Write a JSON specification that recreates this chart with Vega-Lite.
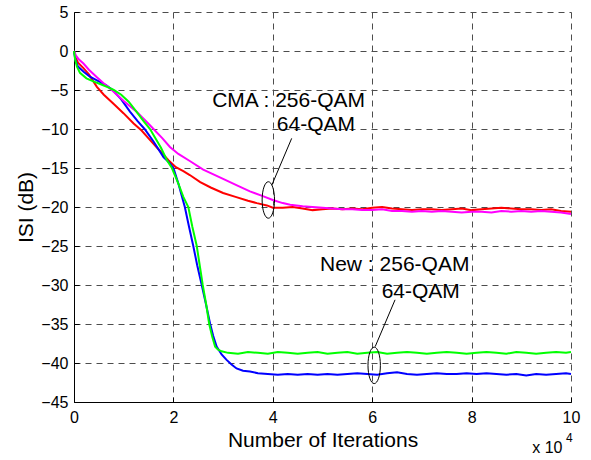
{
  "$schema": "https://vega.github.io/schema/vega-lite/v6.json",
  "width": 497,
  "height": 390,
  "autosize": {"type": "none"},
  "padding": {"left": 74, "top": 12, "right": 20, "bottom": 58},
  "background": "white",
  "config": {
    "font": "Liberation Sans",
    "view": {"stroke": null},
    "axis": {
      "domainColor": "black",
      "domainWidth": 1,
      "tickColor": "black",
      "tickSize": -5,
      "labelColor": "black",
      "labelFont": "Liberation Sans",
      "labelFontSize": 16,
      "titleFont": "Liberation Sans",
      "titleFontSize": 21,
      "titleFontWeight": "normal",
      "titleColor": "black",
      "grid": true,
      "gridColor": "#4d4d4d",
      "gridDash": [6, 5],
      "gridWidth": 1,
      "gridOpacity": 1,
      "labelOverlap": false
    }
  },
  "datasets": {
    "curves": [
      {"x": 0, "isi": 0, "series": "CMA 256-QAM"},
      {"x": 0.03, "isi": -0.8, "series": "CMA 256-QAM"},
      {"x": 0.08, "isi": -1.5, "series": "CMA 256-QAM"},
      {"x": 0.19, "isi": -2.2, "series": "CMA 256-QAM"},
      {"x": 0.3, "isi": -3.0, "series": "CMA 256-QAM"},
      {"x": 0.46, "isi": -4.6, "series": "CMA 256-QAM"},
      {"x": 0.6, "isi": -5.6, "series": "CMA 256-QAM"},
      {"x": 0.8, "isi": -6.8, "series": "CMA 256-QAM"},
      {"x": 1.0, "isi": -8.0, "series": "CMA 256-QAM"},
      {"x": 1.2, "isi": -9.3, "series": "CMA 256-QAM"},
      {"x": 1.36, "isi": -10.2, "series": "CMA 256-QAM"},
      {"x": 1.5, "isi": -11.2, "series": "CMA 256-QAM"},
      {"x": 1.7, "isi": -12.6, "series": "CMA 256-QAM"},
      {"x": 1.9, "isi": -14.0, "series": "CMA 256-QAM"},
      {"x": 2.05, "isi": -14.9, "series": "CMA 256-QAM"},
      {"x": 2.2, "isi": -15.4, "series": "CMA 256-QAM"},
      {"x": 2.33, "isi": -15.9, "series": "CMA 256-QAM"},
      {"x": 2.54, "isi": -16.8, "series": "CMA 256-QAM"},
      {"x": 2.75, "isi": -17.5, "series": "CMA 256-QAM"},
      {"x": 3.0, "isi": -18.2, "series": "CMA 256-QAM"},
      {"x": 3.25, "isi": -18.7, "series": "CMA 256-QAM"},
      {"x": 3.5, "isi": -19.2, "series": "CMA 256-QAM"},
      {"x": 3.68, "isi": -19.5, "series": "CMA 256-QAM"},
      {"x": 3.88, "isi": -19.8, "series": "CMA 256-QAM"},
      {"x": 4.0, "isi": -20.1, "series": "CMA 256-QAM"},
      {"x": 4.2, "isi": -20.1, "series": "CMA 256-QAM"},
      {"x": 4.4, "isi": -20.0, "series": "CMA 256-QAM"},
      {"x": 4.6, "isi": -20.2, "series": "CMA 256-QAM"},
      {"x": 4.8, "isi": -20.4, "series": "CMA 256-QAM"},
      {"x": 5.0, "isi": -20.3, "series": "CMA 256-QAM"},
      {"x": 5.2, "isi": -20.2, "series": "CMA 256-QAM"},
      {"x": 5.4, "isi": -20.3, "series": "CMA 256-QAM"},
      {"x": 5.6, "isi": -20.2, "series": "CMA 256-QAM"},
      {"x": 5.8, "isi": -20.3, "series": "CMA 256-QAM"},
      {"x": 6.0, "isi": -20.1, "series": "CMA 256-QAM"},
      {"x": 6.2, "isi": -20.0, "series": "CMA 256-QAM"},
      {"x": 6.4, "isi": -20.2, "series": "CMA 256-QAM"},
      {"x": 6.6, "isi": -20.3, "series": "CMA 256-QAM"},
      {"x": 6.8, "isi": -20.4, "series": "CMA 256-QAM"},
      {"x": 7.0, "isi": -20.3, "series": "CMA 256-QAM"},
      {"x": 7.2, "isi": -20.3, "series": "CMA 256-QAM"},
      {"x": 7.4, "isi": -20.4, "series": "CMA 256-QAM"},
      {"x": 7.6, "isi": -20.3, "series": "CMA 256-QAM"},
      {"x": 7.8, "isi": -20.2, "series": "CMA 256-QAM"},
      {"x": 8.0, "isi": -20.4, "series": "CMA 256-QAM"},
      {"x": 8.2, "isi": -20.3, "series": "CMA 256-QAM"},
      {"x": 8.4, "isi": -20.2, "series": "CMA 256-QAM"},
      {"x": 8.6, "isi": -20.1, "series": "CMA 256-QAM"},
      {"x": 8.8, "isi": -20.2, "series": "CMA 256-QAM"},
      {"x": 9.0, "isi": -20.3, "series": "CMA 256-QAM"},
      {"x": 9.2, "isi": -20.3, "series": "CMA 256-QAM"},
      {"x": 9.4, "isi": -20.4, "series": "CMA 256-QAM"},
      {"x": 9.6, "isi": -20.3, "series": "CMA 256-QAM"},
      {"x": 9.8, "isi": -20.5, "series": "CMA 256-QAM"},
      {"x": 10.0, "isi": -20.6, "series": "CMA 256-QAM"},

      {"x": 0, "isi": 0, "series": "New 64-QAM"},
      {"x": 0.03, "isi": -1.2, "series": "New 64-QAM"},
      {"x": 0.08, "isi": -2.0, "series": "New 64-QAM"},
      {"x": 0.2, "isi": -2.7, "series": "New 64-QAM"},
      {"x": 0.32, "isi": -3.3, "series": "New 64-QAM"},
      {"x": 0.5, "isi": -3.9, "series": "New 64-QAM"},
      {"x": 0.65, "isi": -4.4, "series": "New 64-QAM"},
      {"x": 0.78, "isi": -5.0, "series": "New 64-QAM"},
      {"x": 0.95, "isi": -6.2, "series": "New 64-QAM"},
      {"x": 1.13, "isi": -7.8, "series": "New 64-QAM"},
      {"x": 1.28, "isi": -9.0, "series": "New 64-QAM"},
      {"x": 1.42, "isi": -10.0, "series": "New 64-QAM"},
      {"x": 1.6, "isi": -11.6, "series": "New 64-QAM"},
      {"x": 1.8, "isi": -13.6, "series": "New 64-QAM"},
      {"x": 1.93, "isi": -14.4, "series": "New 64-QAM"},
      {"x": 2.0, "isi": -15.0, "series": "New 64-QAM"},
      {"x": 2.1, "isi": -17.0, "series": "New 64-QAM"},
      {"x": 2.23, "isi": -20.0, "series": "New 64-QAM"},
      {"x": 2.31, "isi": -22.4, "series": "New 64-QAM"},
      {"x": 2.4, "isi": -25.0, "series": "New 64-QAM"},
      {"x": 2.48, "isi": -27.5, "series": "New 64-QAM"},
      {"x": 2.57, "isi": -30.0, "series": "New 64-QAM"},
      {"x": 2.66, "isi": -32.6, "series": "New 64-QAM"},
      {"x": 2.74, "isi": -35.0, "series": "New 64-QAM"},
      {"x": 2.8, "isi": -36.5, "series": "New 64-QAM"},
      {"x": 2.87, "isi": -37.9, "series": "New 64-QAM"},
      {"x": 2.97, "isi": -38.9, "series": "New 64-QAM"},
      {"x": 3.07, "isi": -39.6, "series": "New 64-QAM"},
      {"x": 3.17, "isi": -40.2, "series": "New 64-QAM"},
      {"x": 3.27, "isi": -40.7, "series": "New 64-QAM"},
      {"x": 3.4, "isi": -41.0, "series": "New 64-QAM"},
      {"x": 3.54, "isi": -41.1, "series": "New 64-QAM"},
      {"x": 3.7, "isi": -41.3, "series": "New 64-QAM"},
      {"x": 3.9, "isi": -41.4, "series": "New 64-QAM"},
      {"x": 4.1, "isi": -41.5, "series": "New 64-QAM"},
      {"x": 4.3, "isi": -41.4, "series": "New 64-QAM"},
      {"x": 4.5, "isi": -41.5, "series": "New 64-QAM"},
      {"x": 4.7, "isi": -41.4, "series": "New 64-QAM"},
      {"x": 4.9, "isi": -41.5, "series": "New 64-QAM"},
      {"x": 5.1, "isi": -41.4, "series": "New 64-QAM"},
      {"x": 5.3, "isi": -41.5, "series": "New 64-QAM"},
      {"x": 5.5, "isi": -41.4, "series": "New 64-QAM"},
      {"x": 5.7, "isi": -41.3, "series": "New 64-QAM"},
      {"x": 5.9, "isi": -41.4, "series": "New 64-QAM"},
      {"x": 6.1, "isi": -41.5, "series": "New 64-QAM"},
      {"x": 6.3, "isi": -41.3, "series": "New 64-QAM"},
      {"x": 6.5, "isi": -41.2, "series": "New 64-QAM"},
      {"x": 6.7, "isi": -41.4, "series": "New 64-QAM"},
      {"x": 6.9, "isi": -41.5, "series": "New 64-QAM"},
      {"x": 7.1, "isi": -41.4, "series": "New 64-QAM"},
      {"x": 7.3, "isi": -41.3, "series": "New 64-QAM"},
      {"x": 7.5, "isi": -41.4, "series": "New 64-QAM"},
      {"x": 7.7, "isi": -41.4, "series": "New 64-QAM"},
      {"x": 7.9, "isi": -41.3, "series": "New 64-QAM"},
      {"x": 8.1, "isi": -41.4, "series": "New 64-QAM"},
      {"x": 8.3, "isi": -41.3, "series": "New 64-QAM"},
      {"x": 8.5, "isi": -41.4, "series": "New 64-QAM"},
      {"x": 8.7, "isi": -41.5, "series": "New 64-QAM"},
      {"x": 8.9, "isi": -41.4, "series": "New 64-QAM"},
      {"x": 9.1, "isi": -41.6, "series": "New 64-QAM"},
      {"x": 9.3, "isi": -41.4, "series": "New 64-QAM"},
      {"x": 9.5, "isi": -41.5, "series": "New 64-QAM"},
      {"x": 9.7, "isi": -41.4, "series": "New 64-QAM"},
      {"x": 9.9, "isi": -41.3, "series": "New 64-QAM"},
      {"x": 10.0, "isi": -41.4, "series": "New 64-QAM"},

      {"x": 0, "isi": 0, "series": "CMA 64-QAM"},
      {"x": 0.04, "isi": -0.6, "series": "CMA 64-QAM"},
      {"x": 0.1, "isi": -1.1, "series": "CMA 64-QAM"},
      {"x": 0.19, "isi": -1.6, "series": "CMA 64-QAM"},
      {"x": 0.3, "isi": -2.4, "series": "CMA 64-QAM"},
      {"x": 0.45, "isi": -3.3, "series": "CMA 64-QAM"},
      {"x": 0.59, "isi": -4.1, "series": "CMA 64-QAM"},
      {"x": 0.76, "isi": -5.0, "series": "CMA 64-QAM"},
      {"x": 1.0, "isi": -6.4, "series": "CMA 64-QAM"},
      {"x": 1.26, "isi": -7.8, "series": "CMA 64-QAM"},
      {"x": 1.45, "isi": -9.0, "series": "CMA 64-QAM"},
      {"x": 1.6, "isi": -10.0, "series": "CMA 64-QAM"},
      {"x": 1.78, "isi": -11.2, "series": "CMA 64-QAM"},
      {"x": 1.93, "isi": -12.3, "series": "CMA 64-QAM"},
      {"x": 2.1, "isi": -13.2, "series": "CMA 64-QAM"},
      {"x": 2.33, "isi": -14.1, "series": "CMA 64-QAM"},
      {"x": 2.6, "isi": -15.2, "series": "CMA 64-QAM"},
      {"x": 3.0, "isi": -16.4, "series": "CMA 64-QAM"},
      {"x": 3.3, "isi": -17.3, "series": "CMA 64-QAM"},
      {"x": 3.54, "isi": -18.0, "series": "CMA 64-QAM"},
      {"x": 3.8, "isi": -18.6, "series": "CMA 64-QAM"},
      {"x": 4.0, "isi": -19.1, "series": "CMA 64-QAM"},
      {"x": 4.2, "isi": -19.5, "series": "CMA 64-QAM"},
      {"x": 4.35, "isi": -19.7, "series": "CMA 64-QAM"},
      {"x": 4.6, "isi": -19.9, "series": "CMA 64-QAM"},
      {"x": 4.8, "isi": -20.0, "series": "CMA 64-QAM"},
      {"x": 5.0, "isi": -20.1, "series": "CMA 64-QAM"},
      {"x": 5.2, "isi": -20.2, "series": "CMA 64-QAM"},
      {"x": 5.4, "isi": -20.3, "series": "CMA 64-QAM"},
      {"x": 5.6, "isi": -20.3, "series": "CMA 64-QAM"},
      {"x": 5.8, "isi": -20.4, "series": "CMA 64-QAM"},
      {"x": 6.0, "isi": -20.4, "series": "CMA 64-QAM"},
      {"x": 6.2, "isi": -20.3, "series": "CMA 64-QAM"},
      {"x": 6.4, "isi": -20.5, "series": "CMA 64-QAM"},
      {"x": 6.6, "isi": -20.5, "series": "CMA 64-QAM"},
      {"x": 6.8, "isi": -20.6, "series": "CMA 64-QAM"},
      {"x": 7.0, "isi": -20.5, "series": "CMA 64-QAM"},
      {"x": 7.2, "isi": -20.6, "series": "CMA 64-QAM"},
      {"x": 7.4, "isi": -20.5, "series": "CMA 64-QAM"},
      {"x": 7.6, "isi": -20.6, "series": "CMA 64-QAM"},
      {"x": 7.8, "isi": -20.7, "series": "CMA 64-QAM"},
      {"x": 8.0, "isi": -20.6, "series": "CMA 64-QAM"},
      {"x": 8.2, "isi": -20.6, "series": "CMA 64-QAM"},
      {"x": 8.4, "isi": -20.7, "series": "CMA 64-QAM"},
      {"x": 8.6, "isi": -20.5, "series": "CMA 64-QAM"},
      {"x": 8.8, "isi": -20.6, "series": "CMA 64-QAM"},
      {"x": 9.0, "isi": -20.5, "series": "CMA 64-QAM"},
      {"x": 9.2, "isi": -20.6, "series": "CMA 64-QAM"},
      {"x": 9.4, "isi": -20.5, "series": "CMA 64-QAM"},
      {"x": 9.6, "isi": -20.6, "series": "CMA 64-QAM"},
      {"x": 9.8, "isi": -20.7, "series": "CMA 64-QAM"},
      {"x": 10.0, "isi": -20.9, "series": "CMA 64-QAM"},

      {"x": 0, "isi": 0, "series": "New 256-QAM"},
      {"x": 0.02, "isi": -1.0, "series": "New 256-QAM"},
      {"x": 0.06, "isi": -2.0, "series": "New 256-QAM"},
      {"x": 0.12, "isi": -2.8, "series": "New 256-QAM"},
      {"x": 0.25, "isi": -3.5, "series": "New 256-QAM"},
      {"x": 0.39, "isi": -3.9, "series": "New 256-QAM"},
      {"x": 0.55, "isi": -4.3, "series": "New 256-QAM"},
      {"x": 0.7, "isi": -4.7, "series": "New 256-QAM"},
      {"x": 0.8, "isi": -5.0, "series": "New 256-QAM"},
      {"x": 0.95, "isi": -5.6, "series": "New 256-QAM"},
      {"x": 1.1, "isi": -6.5, "series": "New 256-QAM"},
      {"x": 1.26, "isi": -7.8, "series": "New 256-QAM"},
      {"x": 1.4, "isi": -9.0, "series": "New 256-QAM"},
      {"x": 1.53, "isi": -10.0, "series": "New 256-QAM"},
      {"x": 1.65, "isi": -11.3, "series": "New 256-QAM"},
      {"x": 1.75, "isi": -12.4, "series": "New 256-QAM"},
      {"x": 1.87, "isi": -14.0, "series": "New 256-QAM"},
      {"x": 1.97, "isi": -15.0, "series": "New 256-QAM"},
      {"x": 2.1, "isi": -17.0, "series": "New 256-QAM"},
      {"x": 2.2, "isi": -18.7, "series": "New 256-QAM"},
      {"x": 2.3, "isi": -20.0, "series": "New 256-QAM"},
      {"x": 2.38, "isi": -22.5, "series": "New 256-QAM"},
      {"x": 2.47, "isi": -25.0, "series": "New 256-QAM"},
      {"x": 2.53, "isi": -27.5, "series": "New 256-QAM"},
      {"x": 2.59, "isi": -30.0, "series": "New 256-QAM"},
      {"x": 2.66, "isi": -32.5, "series": "New 256-QAM"},
      {"x": 2.72, "isi": -35.0, "series": "New 256-QAM"},
      {"x": 2.78, "isi": -36.6, "series": "New 256-QAM"},
      {"x": 2.84, "isi": -37.9, "series": "New 256-QAM"},
      {"x": 2.9, "isi": -38.3, "series": "New 256-QAM"},
      {"x": 2.97, "isi": -38.5, "series": "New 256-QAM"},
      {"x": 3.1, "isi": -38.7, "series": "New 256-QAM"},
      {"x": 3.3, "isi": -38.8, "series": "New 256-QAM"},
      {"x": 3.5, "isi": -38.6, "series": "New 256-QAM"},
      {"x": 3.7, "isi": -38.7, "series": "New 256-QAM"},
      {"x": 3.9, "isi": -38.8, "series": "New 256-QAM"},
      {"x": 4.1, "isi": -38.6, "series": "New 256-QAM"},
      {"x": 4.3, "isi": -38.7, "series": "New 256-QAM"},
      {"x": 4.5, "isi": -38.8, "series": "New 256-QAM"},
      {"x": 4.7, "isi": -38.7, "series": "New 256-QAM"},
      {"x": 4.9, "isi": -38.6, "series": "New 256-QAM"},
      {"x": 5.1, "isi": -38.8, "series": "New 256-QAM"},
      {"x": 5.3, "isi": -38.7, "series": "New 256-QAM"},
      {"x": 5.5, "isi": -38.6, "series": "New 256-QAM"},
      {"x": 5.7, "isi": -38.8, "series": "New 256-QAM"},
      {"x": 5.9, "isi": -38.7, "series": "New 256-QAM"},
      {"x": 6.1, "isi": -38.6, "series": "New 256-QAM"},
      {"x": 6.3, "isi": -38.8, "series": "New 256-QAM"},
      {"x": 6.5, "isi": -38.7, "series": "New 256-QAM"},
      {"x": 6.7, "isi": -38.6, "series": "New 256-QAM"},
      {"x": 6.9, "isi": -38.7, "series": "New 256-QAM"},
      {"x": 7.1, "isi": -38.8, "series": "New 256-QAM"},
      {"x": 7.3, "isi": -38.7, "series": "New 256-QAM"},
      {"x": 7.5, "isi": -38.6, "series": "New 256-QAM"},
      {"x": 7.7, "isi": -38.7, "series": "New 256-QAM"},
      {"x": 7.9, "isi": -38.8, "series": "New 256-QAM"},
      {"x": 8.1, "isi": -38.7, "series": "New 256-QAM"},
      {"x": 8.3, "isi": -38.6, "series": "New 256-QAM"},
      {"x": 8.5, "isi": -38.7, "series": "New 256-QAM"},
      {"x": 8.7, "isi": -38.8, "series": "New 256-QAM"},
      {"x": 8.9, "isi": -38.6, "series": "New 256-QAM"},
      {"x": 9.1, "isi": -38.7, "series": "New 256-QAM"},
      {"x": 9.3, "isi": -38.8, "series": "New 256-QAM"},
      {"x": 9.5, "isi": -38.7, "series": "New 256-QAM"},
      {"x": 9.7, "isi": -38.6, "series": "New 256-QAM"},
      {"x": 9.9, "isi": -38.7, "series": "New 256-QAM"},
      {"x": 10.0, "isi": -38.6, "series": "New 256-QAM"}
    ],
    "ellipses": [
      {"x": 3.91, "isi": -19.1},
      {"x": 6.04, "isi": -40.3}
    ],
    "pointers": [
      {"x": 3.98, "isi": -17.2, "x2": 4.38, "isi2": -11.2},
      {"x": 6.06, "isi": -37.9, "x2": 6.46, "isi2": -31.9}
    ],
    "labels": [
      {"x": 2.78, "isi": -6.4, "text": "CMA : 256-QAM"},
      {"x": 4.08, "isi": -9.5, "text": "64-QAM"},
      {"x": 4.95, "isi": -27.4, "text": "New : 256-QAM"},
      {"x": 6.19, "isi": -30.9, "text": "64-QAM"}
    ],
    "multiplier": [
      {"x": 9.22, "isi": -50.9, "text": "x 10"}
    ],
    "exponent": [
      {"x": 9.9, "isi": -49.6, "text": "4"}
    ]
  },
  "layer": [
    {
      "data": {"name": "curves"},
      "mark": {"type": "line", "strokeWidth": 2, "interpolate": "linear"},
      "encoding": {
        "x": {
          "field": "x", "type": "quantitative",
          "scale": {"domain": [0, 10], "nice": false, "zero": false},
          "axis": {
            "title": "Number of Iterations",
            "values": [0, 2, 4, 6, 8, 10],
            "tickCount": 20,
            "format": "d",
            "labelPadding": 12,
            "titlePadding": 4,
            "labelFlush": false
          }
        },
        "y": {
          "field": "isi", "type": "quantitative",
          "scale": {"domain": [-45, 5], "nice": false, "zero": false},
          "axis": {
            "title": "ISI (dB)",
            "values": [-45, -40, -35, -30, -25, -20, -15, -10, -5, 0, 5],
            "tickCount": 20,
            "format": "d",
            "labelPadding": 11,
            "titleAngle": 270,
            "titleX": -42,
            "titleY": 195,
            "titleAlign": "center",
            "titleBaseline": "alphabetic",
            "labelFlush": false
          }
        },
        "color": {
          "field": "series", "type": "nominal",
          "scale": {
            "domain": ["CMA 256-QAM", "New 64-QAM", "CMA 64-QAM", "New 256-QAM"],
            "range": ["#ff0000", "#0000ff", "#ff00ff", "#00ff00"]
          },
          "legend": null
        },
        "order": {"field": "x", "type": "quantitative"}
      }
    },
    {
      "data": {"name": "ellipses"},
      "mark": {
        "type": "point",
        "shape": "M0,-1A0.34,1,0,1,1,0,1A0.34,1,0,1,1,0,-1Z",
        "size": 1330,
        "filled": false,
        "stroke": "black",
        "strokeWidth": 1,
        "opacity": 1
      },
      "encoding": {
        "x": {"field": "x", "type": "quantitative"},
        "y": {"field": "isi", "type": "quantitative"}
      }
    },
    {
      "data": {"name": "pointers"},
      "mark": {"type": "rule", "color": "black", "strokeWidth": 1},
      "encoding": {
        "x": {"field": "x", "type": "quantitative"},
        "y": {"field": "isi", "type": "quantitative"},
        "x2": {"field": "x2"},
        "y2": {"field": "isi2"}
      }
    },
    {
      "data": {"name": "labels"},
      "mark": {"type": "text", "align": "left", "baseline": "middle", "fontSize": 21, "font": "Liberation Sans", "color": "black"},
      "encoding": {
        "x": {"field": "x", "type": "quantitative"},
        "y": {"field": "isi", "type": "quantitative"},
        "text": {"field": "text"}
      }
    },
    {
      "data": {"name": "multiplier"},
      "mark": {"type": "text", "align": "left", "baseline": "middle", "fontSize": 16, "font": "Liberation Sans", "color": "black", "clip": false},
      "encoding": {
        "x": {"field": "x", "type": "quantitative"},
        "y": {"field": "isi", "type": "quantitative"},
        "text": {"field": "text"}
      }
    },
    {
      "data": {"name": "exponent"},
      "mark": {"type": "text", "align": "left", "baseline": "middle", "fontSize": 12, "font": "Liberation Sans", "color": "black", "clip": false},
      "encoding": {
        "x": {"field": "x", "type": "quantitative"},
        "y": {"field": "isi", "type": "quantitative"},
        "text": {"field": "text"}
      }
    }
  ]
}
